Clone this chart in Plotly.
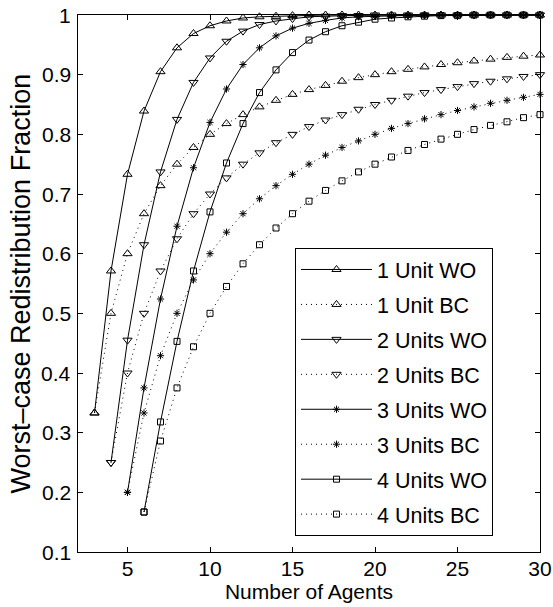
import plotly.graph_objects as go

# Number of agents for each curve (k units need at least k + 2 agents)
agents_1 = list(range(3, 31))
agents_2 = list(range(4, 31))
agents_3 = list(range(5, 31))
agents_4 = list(range(6, 31))

# Worst-case redistribution fraction, WO mechanism
wo_1 = [0.333, 0.571, 0.733, 0.839, 0.905, 0.945, 0.969, 0.982, 0.990, 0.995,
        0.997, 0.998, 0.999, 1.000, 1.000, 1.000, 1.000, 1.000, 1.000, 1.000,
        1.000, 1.000, 1.000, 1.000, 1.000, 1.000, 1.000, 1.000]
wo_2 = [0.250, 0.455, 0.615, 0.737, 0.825, 0.887, 0.928, 0.956, 0.973, 0.984,
        0.990, 0.994, 0.997, 0.998, 0.999, 0.999, 1.000, 1.000, 1.000, 1.000,
        1.000, 1.000, 1.000, 1.000, 1.000, 1.000, 1.000]
wo_3 = [0.200, 0.375, 0.524, 0.646, 0.744, 0.820, 0.876, 0.917, 0.945, 0.965,
        0.978, 0.986, 0.991, 0.995, 0.997, 0.998, 0.999, 0.999, 1.000, 1.000,
        1.000, 1.000, 1.000, 1.000, 1.000, 1.000]
wo_4 = [0.167, 0.318, 0.453, 0.571, 0.670, 0.752, 0.818, 0.870, 0.908, 0.937,
        0.958, 0.972, 0.982, 0.988, 0.993, 0.995, 0.997, 0.998, 0.999, 0.999,
        1.000, 1.000, 1.000, 1.000, 1.000]

# Worst-case redistribution fraction, BC mechanism
bc_1 = [0.333, 0.500, 0.600, 0.667, 0.714, 0.750, 0.778, 0.800, 0.818, 0.833,
        0.846, 0.857, 0.867, 0.875, 0.882, 0.889, 0.895, 0.900, 0.905, 0.909,
        0.913, 0.917, 0.920, 0.923, 0.926, 0.929, 0.931, 0.933]
bc_2 = [0.250, 0.400, 0.500, 0.571, 0.625, 0.667, 0.700, 0.727, 0.750, 0.769,
        0.786, 0.800, 0.813, 0.824, 0.833, 0.842, 0.850, 0.857, 0.864, 0.870,
        0.875, 0.880, 0.885, 0.889, 0.893, 0.897, 0.900]
bc_3 = [0.200, 0.333, 0.429, 0.500, 0.556, 0.600, 0.636, 0.667, 0.692, 0.714,
        0.733, 0.750, 0.765, 0.778, 0.789, 0.800, 0.810, 0.818, 0.826, 0.833,
        0.840, 0.846, 0.852, 0.857, 0.862, 0.867]
bc_4 = [0.167, 0.286, 0.375, 0.444, 0.500, 0.545, 0.583, 0.615, 0.643, 0.667,
        0.688, 0.706, 0.722, 0.737, 0.750, 0.762, 0.773, 0.783, 0.792, 0.800,
        0.808, 0.815, 0.821, 0.828, 0.833]

x_ticks = [5, 10, 15, 20, 25, 30]
y_ticks = [0.1, 0.2, 0.3, 0.4, 0.5, 0.6, 0.7, 0.8, 0.9, 1.0]
y_tick_text = ["0.1", "0.2", "0.3", "0.4", "0.5", "0.6", "0.7", "0.8", "0.9", "1"]

FONT = "Liberation Sans, Arial, Helvetica, sans-serif"
FS = 21
FS_LEGEND = 21.5
FS_YTITLE = 27

series = [
    ("1 Unit WO", agents_1, wo_1, "solid", "triangle-up-open", 8),
    ("1 Unit BC", agents_1, bc_1, "1px,4px", "triangle-up-open", 8),
    ("2 Units WO", agents_2, wo_2, "solid", "triangle-down-open", 8),
    ("2 Units BC", agents_2, bc_2, "1px,4px", "triangle-down-open", 8),
    ("3 Units WO", agents_3, wo_3, "solid", "asterisk-open", 6),
    ("3 Units BC", agents_3, bc_3, "1px,4px", "asterisk-open", 6),
    ("4 Units WO", agents_4, wo_4, "solid", "square-open", 6),
    ("4 Units BC", agents_4, bc_4, "1px,4px", "square-open", 6),
]

fig = go.Figure()
for name, xs, ys, dash, symbol, size in series:
    fig.add_trace(go.Scatter(
        x=xs, y=ys, name=name, mode="lines+markers",
        legendgroup=name,
        line=dict(color="black", width=1, dash=dash),
        marker=dict(symbol=symbol, size=size, color="black",
                    line=dict(color="black", width=1)),
        cliponaxis=False,
    ))

axis_common = dict(
    showline=True, linecolor="black", linewidth=1, mirror="ticks",
    ticks="inside", ticklen=5, tickwidth=1, tickcolor="black",
    showgrid=False, zeroline=False,
    tickfont=dict(family=FONT, size=FS, color="black"),
)

fig.update_xaxes(range=[2, 30], tickvals=x_ticks,
                 ticklabelstandoff=-2,
                 title=dict(text="Number of Agents", standoff=0,
                            font=dict(family=FONT, size=FS, color="black")),
                 **axis_common)
# y tick labels are placed as annotations right next to the axis line
fig.update_yaxes(range=[0.1, 1.0], tickvals=y_ticks, showticklabels=False,
                 **axis_common)

for val, txt in zip(y_ticks, y_tick_text):
    fig.add_annotation(x=0, xref="paper", y=val, yref="y", text=txt,
                       showarrow=False, xanchor="right", yanchor="middle",
                       xshift=-5, font=dict(family=FONT, size=FS, color="black"))

fig.add_annotation(x=0, xref="paper", y=0.5, yref="paper",
                   text="Worst\u2013case Redistribution Fraction",
                   textangle=-90, showarrow=False, xanchor="center",
                   yanchor="middle", xshift=-58,
                   font=dict(family=FONT, size=FS_YTITLE, color="black"))

fig.update_layout(
    width=553, height=607,
    margin=dict(l=78, r=13, t=15, b=55, autoexpand=False),
    paper_bgcolor="white", plot_bgcolor="white",
    font=dict(family=FONT, size=FS, color="black"),
    legend=dict(
        x=0.4697, y=0.0298, xanchor="left", yanchor="bottom",
        bgcolor="white", bordercolor="black", borderwidth=1,
        font=dict(family=FONT, size=FS_LEGEND, color="black"),
        itemwidth=71, tracegroupgap=4,
    ),
)

fig.write_html("out.html")
